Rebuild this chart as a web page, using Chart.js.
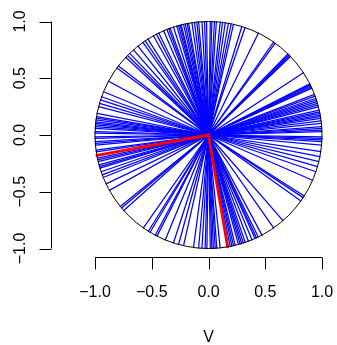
<!DOCTYPE html>
<html>
<head>
<meta charset="utf-8">
<script src="https://cdn.jsdelivr.net/npm/chart.js@4"></script>
<style>
  html, body { margin: 0; padding: 0; background: #fff; }
  canvas { display: block; }
</style>
</head>
<body>
<canvas id="chart" width="337" height="345"></canvas>
<script>
// directions (degrees) of the blue vectors
const blueAngles = [
  123.9, 119, 116, 113.3, 111.5, 110.5, 109.7, 108, 106.2, 105.3, 104.5, 103.9, 102.7, 101.8,
  100.8, 100.1, 98.4, 97.1, 95.9, 95, 93.3, 92, 91, 89.1, 88.3, 87, 86, 84.1, 82.9, 81.5,
  79.9, 78.5, 77.3, 72.9, 71.2, 63.9, 55, 54, 45.6, 45, 44.4, 43.8, 33.3, 26.8, 26.2, 25.6,
  25, 24.4, 21, 20, 18.9, 18, 17.1, 16.2, 15.3, 14.4, 12.7, 11.8, 11, 10.1, 9.3, 8.4, 7.1,
  5.9, 4.2, 3.4, 2.5, 1.7, -0.9, -1.7, -2.5, -3.4, -5.1, -8.4, -11, -13.6, -16.2, -18.9,
  -23.5, -32.5, -33.5, -35.5, -49, -55, -61.9, -64, -65, -65.8, -67.5, -69.4, -71.1, -72.1,
  -73, -73.8, -74.7, -76.4, -77.3, -78.1, -79, -79.9, -84.1, -85.8, -86.6, -87.5, -88.3,
  -89.1, -90.8, -91.7, -93.3, -95, -97.6, -102.7, -105.3, -108, -112.4, -117, -121,
  242, 238, 235, 221.7, 220, 219, 209.2, 205.5, 202, 200.6, 198.9, 197, 196.2, 195.3,
  193.6, 192.7, 191.8, 188.5, 187.6, 185.1, 184.2, 183.4, 181.7, 180.9, 179.1, 178.3,
  176.6, 175.8, 174.9, 174.1, 173.3, 172.4, 171.5, 170.7, 169, 165.5, 163.8, 162, 160.3,
  157.6, 151.7, 143.8, 142.5, 136.8, 135.5, 134, 131.4, 128.4, 125.3, 122.3, 117.3
];
// the two highlighted vectors
const redAngles = [190.4, -80.3];

const tickValues = [-1, -0.5, 0, 0.5, 1];
const tickLabels = ["\u22121.0", "\u22120.5", "0.0", "0.5", "1.0"];
const xTitle = "V";

const FONT = '16px "Liberation Sans", Arial, sans-serif';

function vector(deg) {
  const r = deg * Math.PI / 180;
  return [{ x: 0, y: 0 }, { x: Math.cos(r), y: Math.sin(r) }];
}

const datasets = [];
redAngles.forEach(a => datasets.push({
  data: vector(a), borderColor: "rgb(255,0,0)", borderWidth: 2.8, order: 0
}));
blueAngles.forEach(a => datasets.push({
  data: vector(a), borderColor: "rgb(0,0,255)", borderWidth: 1.25, order: 1
}));

const circlePlugin = {
  id: "unitCircle",
  afterDatasetsDraw(chart) {
    const { ctx, scales: { x, y } } = chart;
    const cx = x.getPixelForValue(0), cy = y.getPixelForValue(0);
    const r = x.getPixelForValue(1) - cx;
    ctx.save();
    ctx.strokeStyle = "#000";
    ctx.lineWidth = 1;
    ctx.beginPath();
    ctx.arc(cx, cy, r, 0, 2 * Math.PI);
    ctx.stroke();
    ctx.restore();
  }
};

const axesPlugin = {
  id: "baseAxes",
  afterDraw(chart) {
    const { ctx, scales: { x, y } } = chart;
    ctx.save();
    ctx.strokeStyle = "#000";
    ctx.fillStyle = "#000";
    ctx.lineWidth = 1;
    ctx.font = FONT;

    // bottom axis
    const ay = 257.5;
    ctx.beginPath();
    ctx.moveTo(x.getPixelForValue(-1), ay);
    ctx.lineTo(x.getPixelForValue(1), ay);
    tickValues.forEach(v => {
      const px = Math.round(x.getPixelForValue(v)) + 0.5;
      ctx.moveTo(px, ay);
      ctx.lineTo(px, ay + 12);
    });
    ctx.stroke();
    ctx.textAlign = "center";
    ctx.textBaseline = "middle";
    tickValues.forEach((v, i) => {
      ctx.fillText(tickLabels[i], x.getPixelForValue(v), 293);
    });
    ctx.fillText(xTitle, x.getPixelForValue(0), 338);

    // left axis
    const ax = 51.5;
    ctx.beginPath();
    ctx.moveTo(ax, y.getPixelForValue(-1));
    ctx.lineTo(ax, y.getPixelForValue(1));
    tickValues.forEach(v => {
      const py = Math.round(y.getPixelForValue(v)) + 0.5;
      ctx.moveTo(ax, py);
      ctx.lineTo(ax - 12, py);
    });
    ctx.stroke();
    tickValues.forEach((v, i) => {
      ctx.save();
      ctx.translate(21, y.getPixelForValue(v));
      ctx.rotate(-Math.PI / 2);
      ctx.fillText(tickLabels[i], 0, 0);
      ctx.restore();
    });
    ctx.restore();
  }
};

new Chart(document.getElementById("chart"), {
  type: "scatter",
  data: { datasets: datasets },
  options: {
    responsive: false,
    animation: false,
    showLine: true,
    elements: { point: { radius: 0, hoverRadius: 0 }, line: { borderCapStyle: "round" } },
    layout: { padding: { left: 90.46, right: 10.46, top: 16.96, bottom: 91.96 } },
    scales: {
      x: { display: false, min: -1.04, max: 1.04 },
      y: { display: false, min: -1.04, max: 1.04 }
    },
    plugins: { legend: { display: false }, tooltip: { enabled: false } }
  },
  plugins: [circlePlugin, axesPlugin]
});
</script>
</body>
</html>
